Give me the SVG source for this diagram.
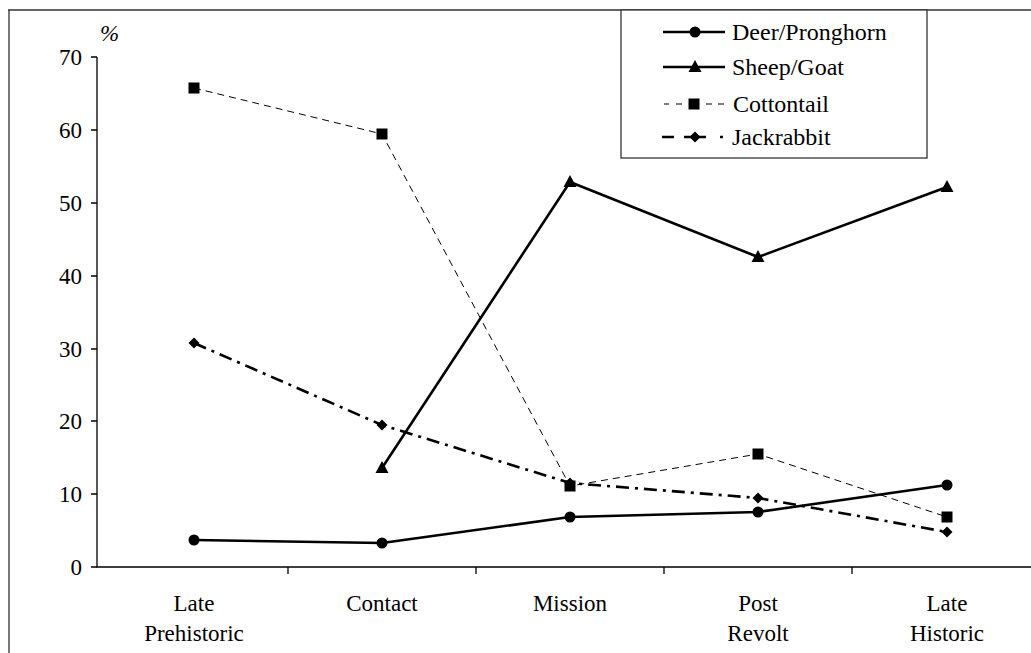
<svg xmlns="http://www.w3.org/2000/svg" width="1031" height="653" viewBox="0 0 1031 653">
<defs>
<style>
text{font-family:'Liberation Serif','Times New Roman',Times,'DejaVu Serif',serif;font-size:23px;fill:#000}
.lg{font-size:24px}
.ax{stroke:#000;stroke-width:1.3;fill:none}
.frame{stroke:#333;stroke-width:1.3;fill:none}
.deer,.sheep{stroke:#000;stroke-width:2.6;fill:none;stroke-linejoin:round}
.cot{stroke:#000;stroke-width:1;fill:none;stroke-dasharray:7 5}
.jack{stroke:#000;stroke-width:2.6;fill:none;stroke-dasharray:13 6 3 6}
.yl{text-anchor:end}
.xl{text-anchor:middle}
</style>
<circle id="mc" r="5.5" fill="#000"/>
<polygon id="mt" points="0,-7 -6.5,5 6.5,5" fill="#000"/>
<rect id="ms" x="-5.5" y="-5.5" width="11" height="11" fill="#000"/>
<polygon id="md" points="0,-5.5 5.5,0 0,5.5 -5.5,0" fill="#000"/>
</defs>
<rect width="1031" height="653" fill="#fff"/>
<g id="frame">
<path class="frame" d="M8,10 H1031 M9,10 V653"/>
</g>
<g id="axes" font-family="Liberation Serif, DejaVu Serif, serif">
<path class="ax" d="M97,57 V567 H1031"/>
<path class="ax" d="M91,57 H97 M91,130 H97 M91,203 H97 M91,276 H97 M91,349 H97 M91,421 H97 M91,494 H97 M91,567 H97"/>
<path class="ax" d="M288,567 V574 M476,567 V574 M664,567 V574 M852,567 V574"/>
<text x="100" y="41" font-style="italic">%</text>
<text class="yl" x="82" y="65">70</text>
<text class="yl" x="82" y="138">60</text>
<text class="yl" x="82" y="211">50</text>
<text class="yl" x="82" y="284">40</text>
<text class="yl" x="82" y="357">30</text>
<text class="yl" x="82" y="429">20</text>
<text class="yl" x="82" y="502">10</text>
<text class="yl" x="82" y="575">0</text>
<text class="xl" x="194" y="611">Late</text>
<text class="xl" x="194" y="641">Prehistoric</text>
<text class="xl" x="382" y="611">Contact</text>
<text class="xl" x="570" y="611">Mission</text>
<text class="xl" x="758" y="611">Post</text>
<text class="xl" x="758" y="641">Revolt</text>
<text class="xl" x="947" y="611">Late</text>
<text class="xl" x="947" y="641">Historic</text>
</g>
<g id="connectors">
<polyline id="cottontail-line" class="cot" points="194,88 382,134 570,486 758,454 947,517"/>
<polyline id="jackrabbit-line" class="jack" points="194,343 382,425 570,483 758,498 947,532"/>
<polyline id="deer-line" class="deer" points="194,540 382,543 570,517 758,512 947,485"/>
<polyline id="sheep-line" class="sheep" points="382,468 570,182 758,257 947,187"/>
</g>
<g id="deer-points">
<use href="#mc" x="194" y="540"/><use href="#mc" x="382" y="543"/><use href="#mc" x="570" y="517"/><use href="#mc" x="758" y="512"/><use href="#mc" x="947" y="485"/>
</g>
<g id="sheep-points">
<use href="#mt" x="382" y="468"/><use href="#mt" x="570" y="182"/><use href="#mt" x="758" y="257"/><use href="#mt" x="947" y="187"/>
</g>
<g id="cottontail-points">
<use href="#ms" x="194" y="88"/><use href="#ms" x="382" y="134"/><use href="#ms" x="570" y="486"/><use href="#ms" x="758" y="454"/><use href="#ms" x="947" y="517"/>
</g>
<g id="jackrabbit-points">
<use href="#md" x="194" y="343"/><use href="#md" x="382" y="425"/><use href="#md" x="570" y="483"/><use href="#md" x="758" y="498"/><use href="#md" x="947" y="532"/>
</g>
<g id="legend" font-family="Liberation Serif, DejaVu Serif, serif">
<rect x="621" y="10" width="306" height="148" fill="#fff" stroke="#333" stroke-width="1.3"/>
<line class="deer" x1="663" y1="32" x2="725" y2="32"/><use href="#mc" x="695" y="32"/>
<text class="lg" x="732" y="40">Deer/Pronghorn</text>
<line class="sheep" x1="663" y1="67" x2="725" y2="67"/><use href="#mt" x="695" y="67"/>
<text class="lg" x="732" y="75">Sheep/Goat</text>
<path d="M664,104 h5 M676,104 h6 M706,104 h6 M718,104 h6" stroke="#000" stroke-width="1.2"/><use href="#ms" x="694" y="104"/>
<text class="lg" x="733" y="112">Cottontail</text>
<path d="M662,137 h12 M684,137 h22 M720,137 h3" stroke="#000" stroke-width="2.6"/><use href="#md" x="695" y="137"/>
<text class="lg" x="732" y="145">Jackrabbit</text>
</g>
</svg>
